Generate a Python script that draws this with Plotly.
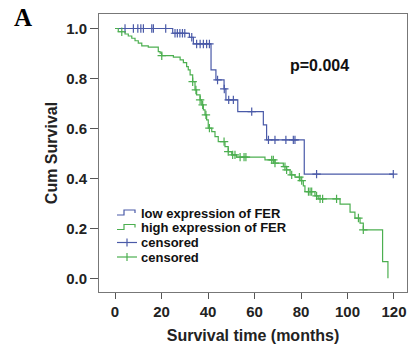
import plotly.graph_objects as go
import bisect

# ---------------- data ----------------
low_t = [0, 24.8, 32.0, 33.7, 41.3, 43.4, 46.9, 47.7, 52.8, 63.8, 65.2, 81.4, 119.7]
low_s = [1.0, 0.981, 0.965, 0.938, 0.834, 0.794, 0.758, 0.714, 0.667, 0.614, 0.554, 0.417, 0.417]
low_cens = [4.3, 7.9, 9.8, 11.1, 12.2, 15.8, 16.5, 21.8, 25.8, 26.8, 27.9, 29.0, 30.0, 33.0,
            35.1, 36.6, 38.0, 39.4, 40.6, 44.1, 47.0, 48.9, 50.9, 58.8, 66.0, 68.8, 73.5,
            76.7, 77.4, 86.7, 119.7]

high_t = [0, 1.4, 4.3, 5.7, 7.2, 8.6, 10.0, 11.5, 14.3, 18.6, 19.4, 20.1, 25.1, 28.0, 29.4,
          30.8, 31.5, 32.3, 33.4, 34.4, 35.1, 36.6, 37.3, 38.0, 38.7, 39.4, 40.1, 41.6, 43.0,
          44.4, 47.3, 48.7, 50.2, 52.3, 64.5, 68.8, 72.4, 73.8, 75.3, 77.4, 79.6, 81.0, 81.7,
          86.0, 87.4, 96.8, 101.1, 103.2, 105.4, 106.8, 115.1, 117.4]
high_s = [1.0, 0.987, 0.978, 0.970, 0.961, 0.951, 0.941, 0.930, 0.925, 0.907, 0.901, 0.891,
          0.885, 0.874, 0.863, 0.847, 0.834, 0.814, 0.787, 0.754, 0.734, 0.714, 0.694, 0.674,
          0.654, 0.634, 0.601, 0.587, 0.567, 0.547, 0.527, 0.507, 0.494, 0.485, 0.474, 0.461,
          0.447, 0.434, 0.414, 0.405, 0.391, 0.370, 0.347, 0.330, 0.318, 0.297, 0.265, 0.241,
          0.221, 0.194, 0.067, 0.0]
high_cens = [2.9, 20.1, 33.4, 34.8, 36.6, 37.7, 39.1, 40.6, 46.9, 48.7, 50.6, 51.6, 53.8,
             55.5, 56.3, 67.4, 68.1, 68.8, 73.1, 73.8, 76.0, 79.3, 80.3, 83.2, 83.9, 84.6,
             86.7, 88.2, 89.3, 95.3, 104.7, 106.8]

x_ticks = [0, 20, 40, 60, 80, 100, 120]
y_ticks = [0.0, 0.2, 0.4, 0.6, 0.8, 1.0]

legend_labels = ["low expression of FER", "high expression of FER", "censored", "censored"]

BLUE = "#4a5aa8"
GREEN = "#4caf50"
FONT = "Liberation Sans, Arial, sans-serif"

W, H = 412, 352
ML, MR, MT, MB = 99, 5, 14, 60
PW, PH = W - ML - MR, H - MT - MB


def px(x):
    return (x - ML) / PW


def py(y):
    return (H - MB - y) / PH


def step_value(ts, ss, t):
    i = bisect.bisect_right(ts, t) - 1
    return ss[max(i, 0)]


fig = go.Figure()
fig.add_trace(go.Scatter(x=low_t, y=low_s, mode="lines", line=dict(shape="hv", color=BLUE, width=1.2),
                         name=legend_labels[0], showlegend=False))
fig.add_trace(go.Scatter(x=high_t, y=high_s, mode="lines", line=dict(shape="hv", color=GREEN, width=1.2),
                         name=legend_labels[1], showlegend=False))
fig.add_trace(go.Scatter(x=low_cens, y=[step_value(low_t, low_s, t) for t in low_cens], mode="markers",
                         marker=dict(symbol="cross-thin", size=6, line=dict(color=BLUE, width=1.2)),
                         name=legend_labels[2], showlegend=False))
fig.add_trace(go.Scatter(x=high_cens, y=[step_value(high_t, high_s, t) for t in high_cens], mode="markers",
                         marker=dict(symbol="cross-thin", size=6, line=dict(color=GREEN, width=1.2)),
                         name=legend_labels[3], showlegend=False))

# ---- manual legend (paper coordinates) ----
rows_y = [213, 227.5, 242.5, 257]
colors = [BLUE, GREEN, BLUE, GREEN]
for i, (lab, c, ry) in enumerate(zip(legend_labels, colors, rows_y)):
    if i < 2:
        path = (f"M {px(117)} {py(ry + 2)} L {px(124)} {py(ry + 2)} L {px(124)} {py(ry - 3)} "
                f"L {px(135)} {py(ry - 3)} L {px(135)} {py(ry)}")
        fig.add_shape(type="path", path=path, xref="paper", yref="paper",
                      line=dict(color=c, width=1.2))
    else:
        fig.add_shape(type="line", x0=px(117), x1=px(137), y0=py(ry), y1=py(ry),
                      xref="paper", yref="paper", line=dict(color=c, width=1.2))
        fig.add_shape(type="line", x0=px(127), x1=px(127), y0=py(ry - 4), y1=py(ry + 4),
                      xref="paper", yref="paper", line=dict(color=c, width=1.2))
    fig.add_annotation(x=px(139), y=py(ry), xref="paper", yref="paper", text=lab, showarrow=False,
                       xanchor="left", yanchor="middle",
                       font=dict(family=FONT, size=13, color="#111", weight="bold"))

fig.add_annotation(x=88, y=0.85, xref="x", yref="y", text="p=0.004", showarrow=False,
                   font=dict(family=FONT, size=16, color="#111", weight="bold"))
fig.add_annotation(x=px(23), y=py(17), xref="paper", yref="paper", text="A", showarrow=False,
                   xanchor="center", yanchor="middle",
                   font=dict(family="Liberation Serif, Times New Roman, serif", size=25, color="black",
                             weight="bold"))

fig.update_layout(
    width=W, height=H,
    margin=dict(l=ML, r=MR, t=MT, b=MB),
    paper_bgcolor="white", plot_bgcolor="white",
    showlegend=False,
    xaxis=dict(range=[-6.9, 125.6], tickvals=x_ticks, ticktext=[str(v) for v in x_ticks],
               automargin=False,
               showgrid=False, zeroline=False, showline=True, mirror=True, linecolor="#777",
               linewidth=1, ticks="outside", ticklen=6, tickcolor="#555",
               tickfont=dict(family=FONT, size=15, color="#222", weight="bold"),
               title=dict(text="Survival time (months)", standoff=10,
                          font=dict(family=FONT, size=16, color="#222", weight="bold"))),
    yaxis=dict(range=[-0.055, 1.058], tickvals=y_ticks, ticktext=[f"{v:.1f}" for v in y_ticks],
               automargin=False,
               showgrid=False, zeroline=False, showline=True, mirror=True, linecolor="#777",
               linewidth=1, ticks="outside", ticklen=8, tickcolor="#555",
               tickfont=dict(family=FONT, size=15, color="#222", weight="bold"),
               title=dict(text="Cum Survival", standoff=4,
                          font=dict(family=FONT, size=16, color="#222", weight="bold"))),
)

fig.write_html("out.html", config={"displayModeBar": False},
               post_script="document.body.style.margin='0';document.body.style.padding='0';")
